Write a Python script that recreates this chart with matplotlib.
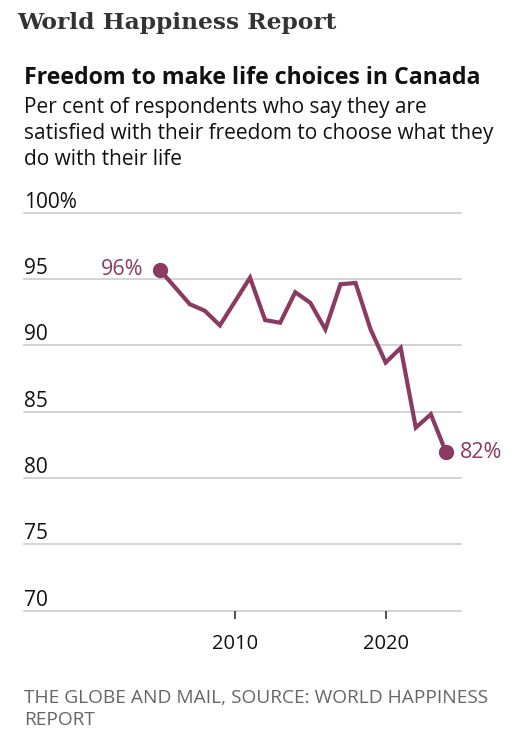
import matplotlib.pyplot as plt
import matplotlib.transforms as mtransforms

# Data
years = [2005, 2007, 2008, 2009, 2010, 2011, 2012, 2013, 2014, 2015,
         2016, 2017, 2018, 2019, 2020, 2021, 2022, 2023, 2024]
freedom = [95.7, 93.1, 92.6, 91.5, 93.3, 95.1, 91.9, 91.7, 94.0, 93.2,
           91.2, 94.6, 94.7, 91.2, 88.7, 89.8, 83.8, 84.8, 81.95]
y_ticks = [70, 75, 80, 85, 90, 95, 100]
x_ticks = [2010, 2020]

subtitle = ['Per cent of respondents who say they are',
            'satisfied with their freedom to choose what they',
            'do with their life']
footer = ['THE GLOBE AND MAIL, SOURCE: WORLD HAPPINESS', 'REPORT']

LINE = '#8b3a62'
GRID = '#cccccc'

W, H = 526, 737
fig = plt.figure(figsize=(W / 100, H / 100), dpi=100)
fig.patch.set_facecolor('white')

def fx(px):
    return px / W

def fy(py):
    return 1 - py / H

ax = fig.add_axes([fx(24), fy(610.7), fx(461 - 24), fy(212.6) - fy(610.7)])
ax.set_xlim(1996, 2025)
ax.set_ylim(70, 100)
for s in ax.spines.values():
    s.set_visible(False)
ax.set_yticks([])
ax.set_xticks(x_ticks)
ax.set_xticklabels([str(t) for t in x_ticks], fontsize=14.5, family='Open Sans')
ax.tick_params(axis='x', length=6, width=1.1, color='#222222', pad=11,
               labelcolor='#111111')

for v in y_ticks:
    ax.axhline(v, color=GRID, lw=1.2, zorder=1, clip_on=False)
trans = mtransforms.blended_transform_factory(ax.transAxes, ax.transData)
for v in y_ticks:
    lab = f'{v}%' if v == 100 else str(v)
    ax.text(0, v, lab, transform=trans, ha='left', va='bottom',
            fontsize=15, family='Open Sans', color='#111111')

ax.plot(years, freedom, color=LINE, lw=3, solid_joinstyle='miter', zorder=3)
ax.plot([years[0], years[-1]], [freedom[0], freedom[-1]], 'o', color=LINE,
        ms=10, zorder=4)
ax.annotate(f'{round(freedom[0])}%', (years[0], freedom[0]),
            xytext=(-11.5, 0), textcoords='offset points', ha='right', va='center',
            fontsize=15.5, family='Open Sans', color=LINE)
ax.annotate(f'{round(freedom[-1])}%', (years[-1], freedom[-1]),
            xytext=(10, 0), textcoords='offset points', ha='left', va='center',
            fontsize=15.5, family='Open Sans', color=LINE)

fig.text(fx(17), fy(29), 'World Happiness Report', family='DejaVu Serif',
         weight='bold', fontsize=16.8, color='#333333', ha='left', va='baseline')
fig.text(fx(24), fy(84), 'Freedom to make life choices in Canada',
         family='Open Sans', weight='bold', fontsize=16.7, color='#111111',
         ha='left', va='baseline')
for i, line in enumerate(subtitle):
    fig.text(fx(24), fy(113 + 26 * i), line, family='Open Sans', fontsize=15,
             color='#111111', ha='left', va='baseline')
for i, line in enumerate(footer):
    fig.text(fx(24), fy(703 + 22 * i), line, family='Open Sans', fontsize=13.8,
             color='#666666', ha='left', va='baseline')

fig.savefig('out.png', dpi=100)
